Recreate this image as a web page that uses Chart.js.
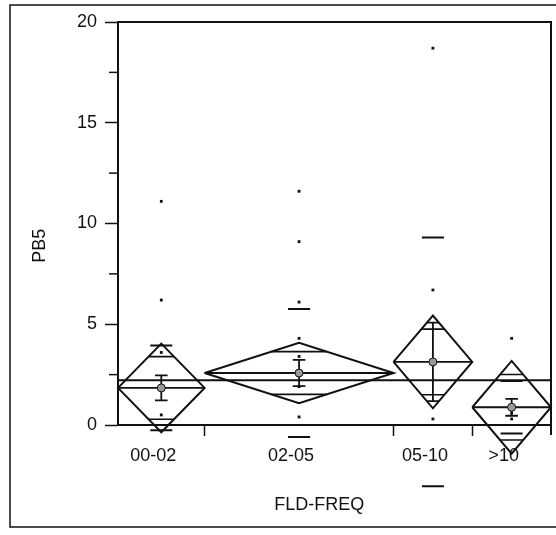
<!DOCTYPE html>
<html>
<head>
<meta charset="utf-8">
<script src="https://cdn.jsdelivr.net/npm/chart.js@4.4.1/dist/chart.umd.min.js"></script>
<style>
  html, body { margin: 0; padding: 0; background: #fff; }
</style>
</head>
<body>
<canvas id="c" width="556" height="535"></canvas>
<script>
// one-way fit of PB5 by FLD-FREQ, means diamonds
const groups = ['00-02', '02-05', '05-10', '>10'];
const groupN = [11, 24, 10, 10];
const groupMean = [1.84, 2.58, 3.13, 0.88];
const groupCI = [2.2, 1.5, 2.3, 2.3];      // 95% half-width
const groupSE = [0.62, 0.65, 1.95, 0.42];
const groupSD = [2.1, 3.18, 6.17, 1.3];
const grandMean = 2.22;

const pts0002 = [11.1, 6.2, 3.6, 0.5];
const pts0205 = [11.6, 9.1, 6.1, 4.3, 3.4, 1.9, 0.4];
const pts0510 = [18.7, 6.7, 0.3];
const ptsGt10 = [4.3, 0.6, 0.3];
const groupPts = [pts0002, pts0205, pts0510, ptsGt10];

const yTicks = [0, 5, 10, 15, 20];
const yMinor = [2.5, 7.5, 12.5, 17.5];
const xTitle = 'FLD-FREQ';
const yTitle = 'PB5';

const INK = '#111';
const FONT = { family: 'Liberation Sans, Arial, sans-serif', size: 18 };
const CAP = 0.8;   // error bar cap half width (x units)
const SDW = 1.4;   // std dev line half width

const starts = [];
let acc = 0;
groupN.forEach(n => { starts.push(acc); acc += n; });
const total = acc;
const centers = groupN.map((n, i) => starts[i] + n / 2);
const bounds = starts.slice(1);

const gap = () => ({ x: null, y: null });
const diamond = [], meanLn = [], overlap = [], errBar = [], sdLn = [], points = [], means = [];

groups.forEach((g, i) => {
  const x0 = starts[i], x1 = starts[i] + groupN[i], xc = centers[i];
  const m = groupMean[i], c = groupCI[i];
  diamond.push({ x: x0, y: m }, { x: xc, y: m + c }, { x: x1, y: m }, { x: xc, y: m - c }, { x: x0, y: m }, gap());
  meanLn.push({ x: x0, y: m }, { x: x1, y: m }, gap());
  const d = c / Math.SQRT2, half = groupN[i] / 2 * (1 - 1 / Math.SQRT2);
  overlap.push({ x: xc - half, y: m + d }, { x: xc + half, y: m + d }, gap());
  overlap.push({ x: xc - half, y: m - d }, { x: xc + half, y: m - d }, gap());
  const se = groupSE[i];
  errBar.push({ x: xc, y: m - se }, { x: xc, y: m + se }, gap());
  errBar.push({ x: xc - CAP, y: m + se }, { x: xc + CAP, y: m + se }, gap());
  errBar.push({ x: xc - CAP, y: m - se }, { x: xc + CAP, y: m - se }, gap());
  const sd = groupSD[i];
  sdLn.push({ x: xc - SDW, y: m + sd }, { x: xc + SDW, y: m + sd }, gap());
  sdLn.push({ x: xc - SDW, y: m - sd }, { x: xc + SDW, y: m - sd }, gap());
  groupPts[i].forEach(v => points.push({ x: xc, y: v }));
  means.push({ x: xc, y: m });
});

const lineSet = (data, width, order) => ({
  data, showLine: true, borderColor: INK, borderWidth: width, pointRadius: 0,
  spanGaps: false, tension: 0, borderJoinStyle: 'miter', clip: false, order
});

// outer frame, top/right plot edges, minor y ticks, axis titles
const frame = {
  id: 'frame',
  afterDraw(chart) {
    const { ctx, chartArea: a, scales: { y } } = chart;
    ctx.save();
    ctx.strokeStyle = INK;
    ctx.lineWidth = 1.5;
    ctx.beginPath();
    ctx.moveTo(556, 5); ctx.lineTo(10, 5); ctx.lineTo(10, 527); ctx.lineTo(556, 527);
    ctx.stroke();
    ctx.lineWidth = 2;
    ctx.beginPath();
    ctx.moveTo(a.left, a.top); ctx.lineTo(a.right, a.top); ctx.lineTo(a.right, a.bottom + 10);
    ctx.stroke();
    ctx.lineWidth = 1.5;
    yMinor.forEach(v => {
      const py = y.getPixelForValue(v);
      ctx.beginPath(); ctx.moveTo(a.left - 9, py); ctx.lineTo(a.left, py); ctx.stroke();
    });
    ctx.fillStyle = INK;
    ctx.font = `${FONT.size}px ${FONT.family}`;
    ctx.textAlign = 'center';
    ctx.textBaseline = 'middle';
    ctx.fillText(xTitle, a.left + (a.right - a.left) * 0.465, a.bottom + 80);
    ctx.translate(a.left - 78, a.top + (a.bottom - a.top) * 0.555);
    ctx.rotate(-Math.PI / 2);
    ctx.fillText(yTitle, 0, 0);
    ctx.restore();
  }
};

new Chart(document.getElementById('c'), {
  type: 'scatter',
  data: {
    datasets: [
      { data: points, pointStyle: 'rect', pointRadius: 2, backgroundColor: INK, borderWidth: 0, clip: false, order: 0 },
      { data: means, pointStyle: 'circle', pointRadius: 4, backgroundColor: '#9a9a9a', borderColor: INK, borderWidth: 1, clip: false, order: 1 },
      lineSet(diamond, 2, 2),
      lineSet(meanLn, 1.8, 3),
      lineSet(overlap, 1.6, 4),
      lineSet(errBar, 1.8, 5),
      lineSet(sdLn, 2, 6),
      lineSet([{ x: 0, y: grandMean }, { x: total, y: grandMean }], 2, 7)
    ]
  },
  options: {
    responsive: false,
    animation: false,
    layout: { padding: { left: 10, right: 3, top: 22, bottom: 8 } },
    plugins: { legend: { display: false }, tooltip: { enabled: false } },
    scales: {
      x: {
        type: 'linear', min: 0, max: total,
        afterBuildTicks: s => {
          s.ticks = [...centers, ...bounds].sort((a, b) => a - b).map(v => ({ value: v }));
        },
        afterFit: s => { s.height = 102; },
        ticks: {
          autoSkip: false, maxRotation: 0, padding: 9, labelOffset: -8,
          color: INK, font: FONT,
          callback: v => { const i = centers.indexOf(v); return i >= 0 ? groups[i] : ''; }
        },
        grid: {
          drawOnChartArea: false, tickLength: 11, tickWidth: 1.5,
          tickColor: c => (c.tick && bounds.includes(c.tick.value)) ? INK : 'rgba(0,0,0,0)'
        },
        border: { color: INK, width: 2 }
      },
      y: {
        type: 'linear', min: 0, max: 20,
        afterBuildTicks: s => { s.ticks = yTicks.map(v => ({ value: v })); },
        afterFit: s => { s.width = 108; },
        ticks: { padding: 8, color: INK, font: FONT },
        grid: { drawOnChartArea: false, tickLength: 13, tickWidth: 1.5, tickColor: INK },
        border: { color: INK, width: 2 }
      }
    }
  },
  plugins: [frame]
});
</script>
</body>
</html>
